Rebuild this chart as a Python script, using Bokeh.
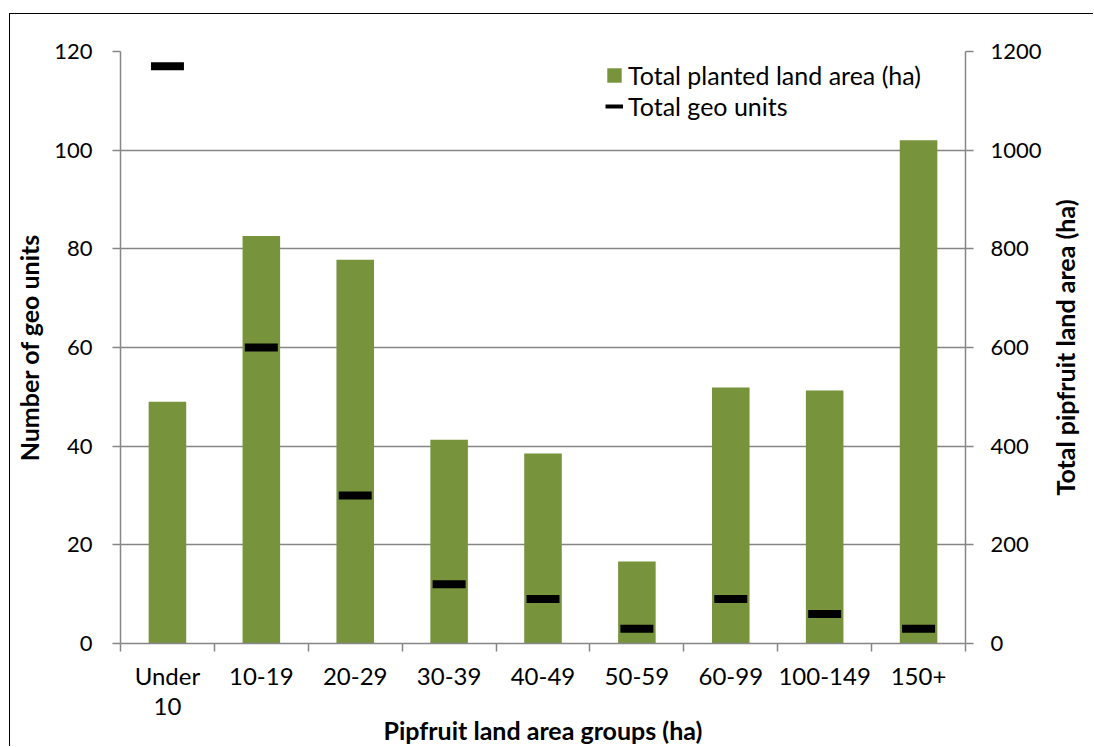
import math
import numpy as np
from bokeh.plotting import figure
from bokeh.models import Range1d, LinearAxis, FixedTicker, Legend, LegendItem, Label
from bokeh.embed import file_html
from bokeh.resources import INLINE

categories = ["Under 10", "10-19", "20-29", "30-39", "40-49", "50-59", "60-99", "100-149", "150+"]
category_labels = ["Under\n10", "10-19", "20-29", "30-39", "40-49", "50-59", "60-99", "100-149", "150+"]
land_area_ha = [490, 826, 778, 413, 385, 166, 519, 513, 1020]
geo_units = [117, 60, 30, 12, 9, 3, 9, 6, 3]
left_ticks = [0, 20, 40, 60, 80, 100, 120]
right_ticks = [0, 200, 400, 600, 800, 1000, 1200]

FONT = "Lato"
GRAY = "#868686"
GREEN = "#77933C"

x = [i + 0.5 for i in range(len(categories))]
boundaries = list(range(len(categories) + 1))

p = figure(width=1084, height=733, title=None,
           x_range=Range1d(0, len(categories)), y_range=Range1d(0, 120),
           output_backend="svg", toolbar_location=None,
           min_border_left=110, min_border_right=129, min_border_top=37, min_border_bottom=104)
p.margin = (13, 0, 0, 9)
p.styles = {"border-top": "1.5px solid black", "border-left": "1.5px solid black"}
p.extra_y_ranges = {"area": Range1d(0, 1200)}
p.outline_line_color = None
p.background_fill_color = "white"
p.border_fill_color = "white"

p.xgrid.visible = False
p.ygrid.ticker = FixedTicker(ticks=left_ticks)
p.ygrid.grid_line_color = GRAY
p.ygrid.grid_line_width = 1.5

bars = p.vbar(x=x, top=land_area_ha, bottom=0, width=0.4, y_range_name="area",
              fill_color=GREEN, line_color=None)
p.scatter(x=x, y=geo_units, marker="dash", size=33, line_width=8, line_color="black")
dash_legend = p.line(x=np.array([x[0]]), y=np.array([np.nan]), line_color="black", line_width=4)

# x axis
xa = p.xaxis[0]
xa.ticker = FixedTicker(ticks=x, minor_ticks=boundaries)
xa.major_label_overrides = {xi: lab for xi, lab in zip(x, category_labels)}
xa.major_tick_out = 0
xa.major_tick_in = 0
xa.minor_tick_out = 8
xa.minor_tick_in = 0
xa.minor_tick_line_color = GRAY
xa.minor_tick_line_width = 1.5
xa.axis_line_color = GRAY
xa.axis_line_width = 1.5
xa.major_label_text_font = FONT
xa.major_label_text_font_size = "24px"
xa.major_label_text_line_height = 1.05
xa.major_label_text_color = "black"
xa.major_label_standoff = 9
xa.axis_label = "Pipfruit land area groups (ha)"
xa.axis_label_text_font = FONT
xa.axis_label_text_font_style = "bold"
xa.axis_label_text_font_size = "25px"
xa.axis_label_text_color = "black"
xa.axis_label_standoff = -8

# left axis
ya = p.yaxis[0]
ya.ticker = FixedTicker(ticks=left_ticks)
ya.major_tick_out = 8
ya.major_tick_in = 0
ya.minor_tick_line_color = None
ya.major_tick_line_color = GRAY
ya.major_tick_line_width = 1.5
ya.axis_line_color = GRAY
ya.axis_line_width = 1.5
ya.major_label_text_font = FONT
ya.major_label_text_font_size = "22px"
ya.major_label_text_color = "black"
ya.major_label_standoff = 20
ya.axis_label = "Number of geo units"
ya.axis_label_text_font = FONT
ya.axis_label_text_font_style = "bold"
ya.axis_label_text_font_size = "25px"
ya.axis_label_text_color = "black"
ya.axis_label_standoff = 7

# right axis
ra = LinearAxis(y_range_name="area", ticker=FixedTicker(ticks=right_ticks))
ra.major_tick_out = 8
ra.major_tick_in = 0
ra.minor_tick_line_color = None
ra.major_tick_line_color = GRAY
ra.major_tick_line_width = 1.5
ra.axis_line_color = GRAY
ra.axis_line_width = 1.5
ra.major_label_text_font = FONT
ra.major_label_text_font_size = "22px"
ra.major_label_text_color = "black"
ra.major_label_standoff = 17
p.add_layout(ra, "right")

right_title = Label(text="Total pipfruit land area (ha)", x=20, y=296,
                    x_units="screen", y_units="screen", angle=math.pi / 2,
                    text_align="center", text_baseline="middle",
                    text_font=FONT, text_font_style="bold", text_font_size="25px",
                    text_color="black")
p.add_layout(right_title, "right")

legend = Legend(items=[LegendItem(label="Total planted land area (ha)", renderers=[bars]),
                       LegendItem(label="Total geo units", renderers=[dash_legend])],
                location=(485, 522), padding=0, margin=0, spacing=1,
                glyph_width=18, glyph_height=18, label_standoff=5,
                label_text_font=FONT, label_text_font_size="25px", label_text_color="black",
                border_line_color=None, background_fill_alpha=0)
p.add_layout(legend, "center")

open("out.html", "w").write(file_html(p, INLINE))
